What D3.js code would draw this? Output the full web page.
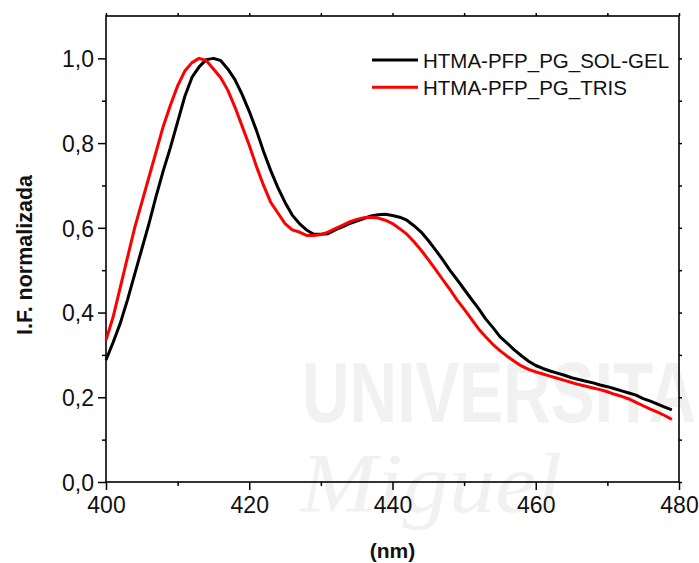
<!DOCTYPE html>
<html>
<head>
<meta charset="utf-8">
<script src="https://cdn.jsdelivr.net/npm/d3@7"></script>
<style>
  html, body { margin: 0; padding: 0; background: #ffffff; }
  svg { display: block; }
  text { font-family: "Liberation Sans", Arial, sans-serif; }
</style>
</head>
<body>
<svg id="chart" width="699" height="563"></svg>
<script>
// ---- data ----
const wavelengths = [400,401,402,403,404,405,406,407,408,409,410,411,412,413,414,415,416,417,418,419,
  420,421,422,423,424,425,426,427,428,429,430,431,432,433,434,435,436,437,438,439,
  440,441,442,443,444,445,446,447,448,449,450,451,452,453,454,455,456,457,458,459,
  460,461,462,463,464,465,466,467,468,469,470,471,472,473,474,475,476,477,478,479];

const solGel = [0.288,0.33,0.375,0.43,0.49,0.55,0.61,0.675,0.735,0.79,0.85,0.91,0.955,0.98,0.997,1.0,0.995,0.975,0.95,0.915,
  0.875,0.83,0.78,0.735,0.695,0.66,0.63,0.61,0.595,0.585,0.585,0.586,0.595,0.602,0.61,0.616,0.622,0.628,0.631,0.632,
  0.629,0.625,0.618,0.605,0.59,0.57,0.548,0.525,0.50,0.478,0.455,0.432,0.41,0.385,0.365,0.343,0.328,0.312,0.298,0.285,
  0.275,0.268,0.262,0.257,0.252,0.246,0.242,0.238,0.234,0.229,0.225,0.22,0.215,0.21,0.205,0.197,0.191,0.184,0.177,0.17];

const tris = [0.335,0.39,0.46,0.53,0.60,0.66,0.72,0.78,0.84,0.89,0.935,0.97,0.99,1.0,0.995,0.975,0.955,0.925,0.885,0.84,
  0.795,0.745,0.70,0.66,0.635,0.61,0.595,0.59,0.582,0.582,0.584,0.59,0.598,0.606,0.614,0.62,0.624,0.625,0.623,0.618,
  0.61,0.598,0.585,0.567,0.547,0.525,0.502,0.478,0.455,0.43,0.408,0.385,0.362,0.343,0.325,0.31,0.297,0.285,0.274,0.266,
  0.26,0.255,0.25,0.245,0.24,0.235,0.23,0.226,0.222,0.218,0.213,0.207,0.202,0.196,0.188,0.18,0.172,0.165,0.157,0.148];

const seriesNames = ["HTMA-PFP_PG_SOL-GEL", "HTMA-PFP_PG_TRIS"];
const seriesColors = ["#000000", "#ff0000"];

const xMajorTicks = [400, 420, 440, 460, 480];
const xMinorTicks = [410, 430, 450, 470];
const yMajorTicks = [0.0, 0.2, 0.4, 0.6, 0.8, 1.0];
const yMinorTicks = [0.1, 0.3, 0.5, 0.7, 0.9];

const xTitle = "(nm)";
const yTitle = "I.F. normalizada";

// ---- layout ----
const svg = d3.select("#chart");
const L = 106, R = 679, T = 16, B = 482;
const x = d3.scaleLinear().domain([400, 480]).range([L, R]);
const y = d3.scaleLinear().domain([0, 1.1]).range([B, T]);

svg.append("rect").attr("width", 699).attr("height", 563).attr("fill", "#ffffff");

// faint watermark
const wm = svg.append("g").attr("fill", "#f1f1f1");
wm.append("text").attr("x", 302).attr("y", 422)
  .attr("font-size", 86).attr("font-weight", "bold")
  .attr("textLength", 394).attr("lengthAdjust", "spacingAndGlyphs")
  .text("UNIVERSITA");
wm.append("text").attr("x", 300).attr("y", 512)
  .attr("font-size", 84).attr("font-style", "italic")
  .style("font-family", "'Liberation Serif', serif")
  .attr("textLength", 262).attr("lengthAdjust", "spacingAndGlyphs")
  .text("Miguel");

const fmt = d => d3.format(".1f")(d).replace(".", ",");

// axes
const gx = svg.append("g").attr("transform", `translate(0,${B})`)
  .call(d3.axisBottom(x).tickValues(xMajorTicks).tickSize(8).tickSizeOuter(0).tickPadding(6).tickFormat(d3.format("d")));
const gxm = svg.append("g").attr("transform", `translate(0,${B})`)
  .call(d3.axisBottom(x).tickValues(xMinorTicks).tickSize(4).tickSizeOuter(0).tickFormat(""));
const gy = svg.append("g").attr("transform", `translate(${L},0)`)
  .call(d3.axisLeft(y).tickValues(yMajorTicks).tickSize(8).tickSizeOuter(0).tickPadding(4).tickFormat(fmt));
const gym = svg.append("g").attr("transform", `translate(${L},0)`)
  .call(d3.axisLeft(y).tickValues(yMinorTicks).tickSize(4).tickSizeOuter(0).tickFormat(""));
const gt = svg.append("g").attr("transform", `translate(0,${T})`)
  .call(d3.axisTop(x).tickValues(xMajorTicks.concat(xMinorTicks)).tickSize(3).tickSizeOuter(0).tickFormat(""));
const gr = svg.append("g").attr("transform", `translate(${R},0)`)
  .call(d3.axisRight(y).tickValues(yMajorTicks.concat(yMinorTicks)).tickSize(3).tickSizeOuter(0).tickFormat(""));

[gx, gxm, gy, gym, gt, gr].forEach(g => {
  g.select(".domain").remove();
  g.selectAll(".tick line").attr("stroke", "#000").attr("stroke-width", 1.5);
  g.selectAll(".tick text").attr("fill", "#111").attr("font-size", 23)
    .style("font-family", "'Liberation Sans', Arial, sans-serif");
});
gy.selectAll(".tick text").attr("dy", "0.36em");
gx.selectAll(".tick text").attr("dy", "0.76em");

// frame
svg.append("rect").attr("x", L).attr("y", T).attr("width", R - L).attr("height", B - T)
  .attr("fill", "none").attr("stroke", "#000").attr("stroke-width", 1.6);

// lines
const line = d3.line().x((d, i) => x(wavelengths[i])).y(d => y(d));
[solGel, tris].forEach((s, k) => {
  svg.append("path").datum(s).attr("d", line)
    .attr("fill", "none").attr("stroke", seriesColors[k]).attr("stroke-width", 3)
    .attr("stroke-linejoin", "round");
});

// legend
const lg = svg.append("g");
seriesNames.forEach((n, k) => {
  const yy = 60 + k * 27.3;
  lg.append("line").attr("x1", 372).attr("x2", 418).attr("y1", yy).attr("y2", yy)
    .attr("stroke", seriesColors[k]).attr("stroke-width", 3);
  lg.append("text").attr("x", 423).attr("y", yy + 7.7)
    .attr("font-size", 20.5).attr("fill", "#111").text(n);
});

// titles
svg.append("text").attr("x", (L + R) / 2).attr("y", 558).attr("text-anchor", "middle")
  .attr("font-size", 21).attr("font-weight", "bold").attr("fill", "#111").text(xTitle);
svg.append("text").attr("transform", `translate(31.5,${(173 + 337) / 2}) rotate(-90)`)
  .attr("text-anchor", "middle").attr("font-size", 21.5).attr("font-weight", "bold")
  .attr("fill", "#111").text(yTitle);
</script>
</body>
</html>
